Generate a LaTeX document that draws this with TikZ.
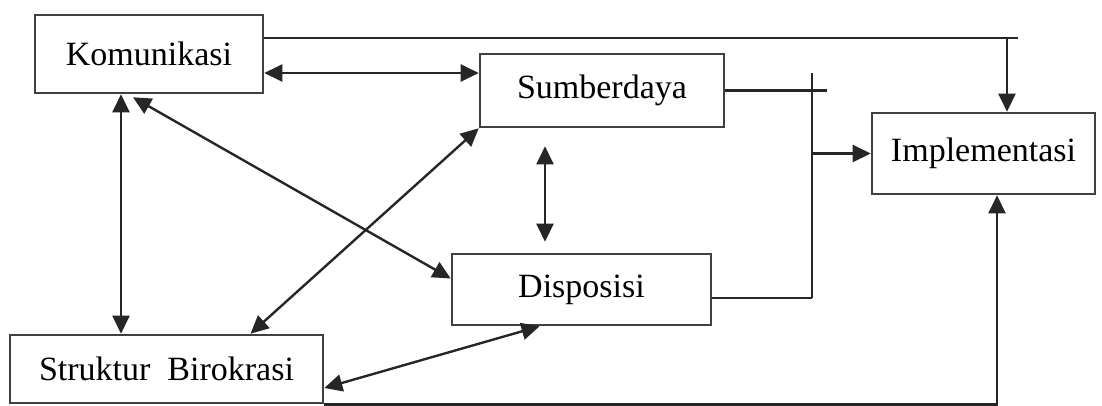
\documentclass[tikz,border=0pt]{standalone}
\usepackage{fontspec}
\setmainfont{Liberation Serif}
\usetikzlibrary{arrows.meta}

\begin{document}
\begin{tikzpicture}[x=1pt, y=-1pt,
    box/.style={
        draw=black!75,
        line width=2.6pt,
        inner sep=0pt,
        font=\fontsize{34}{40}\selectfont
    },
    link/.style={
        draw=black!85,
        line width=2.4pt
    },
    onearrow/.style={
        link,
        -{Triangle[length=18pt,width=17pt]}
    },
    twoarrow/.style={
        link,
        {Triangle[length=18pt,width=17pt]}-{Triangle[length=18pt,width=17pt]}
    }
]

\useasboundingbox (0,0) rectangle (1102,405);

%%%%%%%%%%%%%%%%%%%%%%%%
% Kotak
%%%%%%%%%%%%%%%%%%%%%%%%

\node[box, minimum width=228pt, minimum height=78pt] (kom) at (149,54) {Komunikasi};
\node[box, minimum width=244pt, minimum height=73pt] (sum) at (602,90.5) {Sumberdaya};
\node[box, minimum width=223pt, minimum height=81pt] (imp) at (983.5,153.5) {Implementasi};
\node[box, minimum width=259pt, minimum height=71pt] (dis) at (581.5,289.5) {Disposisi};
\node[box, minimum width=313pt, minimum height=68pt] (str) at (166.5,369) {Struktur~ Birokrasi};

% titik bantu
\coordinate (topturn) at (1007,38);
\coordinate (topend) at (1018,38);
\coordinate (junctop) at (812,73);
\coordinate (sumend) at (827,91);

%%%%%%%%%%%%%%%%%%%%%%%%
% Garis ke Implementasi
%%%%%%%%%%%%%%%%%%%%%%%%

\draw[link] (kom.east |- topturn) -- (topend);
\draw[onearrow] (topturn) -- (topturn |- imp.north);

\draw[link] (sum.east) -- (sum.east -| sumend);
\draw[link] (junctop) -- ([yshift=-8.5pt]dis.east -| junctop);
\draw[link] ([yshift=-8.5pt]dis.east) -- ([yshift=-8.5pt]dis.east -| junctop);
\draw[onearrow] (imp.west -| junctop) -- (imp.west);

\draw[onearrow] (str.south east) -| ([xshift=13.5pt]imp.south);

%%%%%%%%%%%%%%%%%%%%%%%%
% Hubungan dua arah
%%%%%%%%%%%%%%%%%%%%%%%%

\draw[twoarrow] ([yshift=-19pt]kom.east) -- ([yshift=-19pt]kom.east -| sum.west);
\draw[twoarrow] ([xshift=-28pt]kom.south) -- ([xshift=-28pt]kom.south |- str.north);
\draw[twoarrow] ([xshift=-16pt,yshift=-3pt]kom.south) -- ([yshift=11pt]dis.west);
\draw[twoarrow] ([xshift=84pt]str.north) -- (sum.south west);
\draw[twoarrow] ([yshift=-19pt]str.east) -- ([xshift=-42pt]dis.south);
\draw[twoarrow, shorten <=18pt, shorten >=11pt]
    ([xshift=-57pt]sum.south) -- ([xshift=-57pt]sum.south |- dis.north);

\end{tikzpicture}
\end{document}
